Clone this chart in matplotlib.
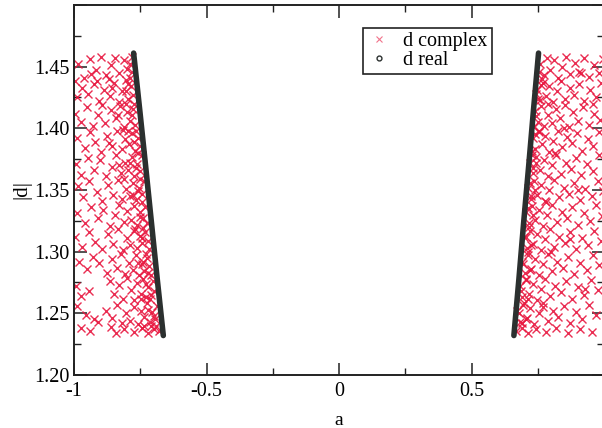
import numpy as np
import matplotlib
matplotlib.use("Agg")
import matplotlib.pyplot as plt
from matplotlib.lines import Line2D
from matplotlib.ticker import MultipleLocator

plt.rcParams['font.family'] = ['Liberation Serif', 'DejaVu Serif']

# d complex, left cluster (a, |d|)
left_pts = [
    (-0.985,1.452),(-0.962,1.441),(-0.941,1.456),(-0.918,1.447),(-0.897,1.458),(-0.880,1.443),(-0.862,1.451),(-0.845,1.457),
    (-0.829,1.445),(-0.812,1.455),(-0.800,1.448),(-0.790,1.441),(-0.783,1.458),(-0.868,1.440),(-0.935,1.444),(-0.998,1.438),
    (-0.990,1.425),(-0.970,1.433),(-0.948,1.428),(-0.925,1.436),(-0.905,1.422),(-0.887,1.431),(-0.866,1.426),(-0.850,1.437),
    (-0.832,1.421),(-0.818,1.430),(-0.805,1.439),(-0.795,1.424),(-0.784,1.434),(-0.776,1.427),(-0.858,1.433),(-0.912,1.438),
    (-0.995,1.412),(-0.972,1.405),(-0.951,1.417),(-0.930,1.402),(-0.908,1.411),(-0.884,1.404),(-0.861,1.415),(-0.842,1.408),
    (-0.826,1.418),(-0.812,1.401),(-0.799,1.413),(-0.788,1.406),(-0.776,1.416),(-0.768,1.403),(-0.835,1.411),(-0.894,1.419),(-0.805,1.420),
    (-0.988,1.392),(-0.960,1.384),(-0.940,1.397),(-0.921,1.389),(-0.899,1.381),(-0.877,1.394),(-0.855,1.386),(-0.838,1.398),
    (-0.820,1.383),(-0.806,1.391),(-0.793,1.387),(-0.781,1.396),(-0.770,1.382),(-0.760,1.392),(-0.815,1.399),(-0.868,1.388),(-0.752,1.386),
    (-0.993,1.371),(-0.975,1.362),(-0.946,1.376),(-0.924,1.366),(-0.903,1.374),(-0.880,1.361),(-0.858,1.369),(-0.840,1.378),
    (-0.822,1.364),(-0.807,1.372),(-0.795,1.366),(-0.783,1.377),(-0.772,1.361),(-0.761,1.371),(-0.750,1.365),(-0.830,1.370),(-0.745,1.378),
    (-0.985,1.353),(-0.966,1.344),(-0.943,1.357),(-0.915,1.348),(-0.896,1.341),(-0.873,1.354),(-0.852,1.346),(-0.834,1.358),
    (-0.818,1.343),(-0.802,1.351),(-0.790,1.345),(-0.778,1.356),(-0.766,1.342),(-0.755,1.352),(-0.745,1.347),(-0.737,1.357),(-0.812,1.359),
    (-0.990,1.331),(-0.958,1.323),(-0.937,1.336),(-0.910,1.327),(-0.889,1.334),(-0.866,1.321),(-0.847,1.330),(-0.829,1.338),
    (-0.813,1.324),(-0.799,1.333),(-0.786,1.326),(-0.773,1.337),(-0.762,1.322),(-0.751,1.332),(-0.741,1.327),(-0.732,1.336),(-0.726,1.323),
    (-0.996,1.312),(-0.970,1.304),(-0.944,1.316),(-0.919,1.308),(-0.893,1.302),(-0.871,1.314),(-0.851,1.306),(-0.833,1.318),
    (-0.816,1.301),(-0.801,1.311),(-0.788,1.305),(-0.775,1.317),(-0.763,1.303),(-0.752,1.313),(-0.742,1.307),(-0.732,1.316),(-0.722,1.309),(-0.716,1.302),
    (-0.982,1.292),(-0.952,1.286),(-0.930,1.296),(-0.877,1.283),(-0.858,1.294),(-0.838,1.287),(-0.821,1.298),(-0.806,1.282),
    (-0.792,1.291),(-0.779,1.285),(-0.767,1.297),(-0.755,1.281),(-0.745,1.290),(-0.735,1.284),(-0.725,1.295),(-0.716,1.288),(-0.708,1.281),(-0.905,1.291),
    (-0.993,1.272),(-0.975,1.264),(-0.944,1.268),(-0.866,1.276),(-0.849,1.266),(-0.831,1.273),(-0.815,1.262),(-0.800,1.279),
    (-0.786,1.269),(-0.773,1.261),(-0.761,1.275),(-0.749,1.266),(-0.739,1.278),(-0.729,1.263),(-0.720,1.271),(-0.711,1.265),(-0.703,1.276),(-0.697,1.268),
    (-0.988,1.256),(-0.955,1.249),(-0.925,1.245),(-0.909,1.243),(-0.878,1.252),(-0.857,1.246),(-0.838,1.257),(-0.819,1.242),
    (-0.803,1.250),(-0.790,1.244),(-0.775,1.255),(-0.760,1.241),(-0.748,1.252),(-0.735,1.247),(-0.724,1.258),(-0.714,1.243),(-0.704,1.251),(-0.695,1.245),(-0.688,1.256),
    (-0.972,1.238),(-0.940,1.236),(-0.860,1.239),(-0.842,1.234),(-0.810,1.237),(-0.772,1.235),(-0.745,1.238),(-0.720,1.234),(-0.700,1.237),(-0.680,1.236),
    # denser strip next to the real branch
    (-0.790,1.452),(-0.781,1.446),(-0.795,1.436),(-0.772,1.420),(-0.781,1.411),(-0.765,1.398),(-0.775,1.389),(-0.758,1.380),
    (-0.765,1.368),(-0.752,1.359),(-0.760,1.349),(-0.744,1.340),(-0.752,1.328),(-0.738,1.319),(-0.745,1.311),(-0.728,1.298),
    (-0.738,1.292),(-0.720,1.283),(-0.728,1.274),(-0.712,1.262),(-0.722,1.253),(-0.700,1.248),(-0.710,1.240),(-0.690,1.240),
    (-0.805,1.430),(-0.798,1.398),(-0.788,1.372),(-0.778,1.346),(-0.768,1.318),(-0.758,1.291),(-0.748,1.262),(-0.735,1.240),
]

# d complex, right cluster (a, |d|)
right_pts = [
    (0.760,1.452),(0.772,1.443),(0.785,1.457),(0.798,1.447),(0.812,1.455),(0.826,1.441),(0.840,1.450),(0.856,1.458),
    (0.871,1.444),(0.889,1.453),(0.905,1.446),(0.924,1.457),(0.943,1.442),(0.962,1.451),(0.981,1.445),(0.995,1.456),(0.765,1.440),
    (0.748,1.431),(0.758,1.423),(0.769,1.437),(0.781,1.426),(0.794,1.434),(0.808,1.421),(0.823,1.430),(0.838,1.438),
    (0.853,1.424),(0.870,1.433),(0.887,1.427),(0.906,1.436),(0.925,1.422),(0.946,1.431),(0.968,1.425),(0.988,1.437),
    (0.740,1.414),(0.750,1.405),(0.762,1.418),(0.775,1.402),(0.789,1.411),(0.803,1.404),(0.818,1.416),(0.834,1.408),
    (0.851,1.419),(0.868,1.401),(0.884,1.413),(0.903,1.406),(0.921,1.417),(0.942,1.403),(0.963,1.412),(0.985,1.407),
    (0.731,1.392),(0.741,1.383),(0.753,1.397),(0.765,1.387),(0.779,1.394),(0.793,1.381),(0.809,1.390),(0.826,1.398),
    (0.843,1.385),(0.861,1.393),(0.879,1.388),(0.898,1.396),(0.918,1.382),(0.939,1.391),(0.960,1.386),(0.982,1.397),(0.728,1.382),
    (0.722,1.372),(0.733,1.364),(0.745,1.377),(0.758,1.366),(0.772,1.374),(0.787,1.361),(0.803,1.370),(0.820,1.378),
    (0.838,1.363),(0.856,1.372),(0.875,1.367),(0.894,1.376),(0.914,1.362),(0.936,1.371),(0.958,1.365),(0.980,1.378),
    (0.714,1.352),(0.724,1.343),(0.736,1.357),(0.749,1.346),(0.763,1.354),(0.778,1.341),(0.794,1.350),(0.811,1.358),
    (0.829,1.344),(0.848,1.352),(0.867,1.347),(0.887,1.356),(0.908,1.342),(0.930,1.351),(0.953,1.345),(0.976,1.357),(0.996,1.349),
    (0.706,1.332),(0.716,1.323),(0.728,1.337),(0.741,1.326),(0.755,1.334),(0.770,1.321),(0.786,1.330),(0.803,1.338),
    (0.821,1.324),(0.840,1.332),(0.860,1.327),(0.880,1.336),(0.901,1.322),(0.923,1.331),(0.946,1.325),(0.970,1.338),(0.992,1.329),
    (0.698,1.312),(0.708,1.303),(0.720,1.317),(0.733,1.306),(0.747,1.314),(0.762,1.301),(0.778,1.310),(0.795,1.318),
    (0.813,1.304),(0.832,1.312),(0.852,1.307),(0.873,1.316),(0.894,1.302),(0.916,1.311),(0.940,1.305),(0.964,1.317),(0.988,1.309),
    (0.690,1.292),(0.700,1.283),(0.712,1.297),(0.725,1.286),(0.739,1.294),(0.754,1.281),(0.770,1.290),(0.787,1.298),
    (0.805,1.284),(0.824,1.292),(0.844,1.287),(0.865,1.296),(0.887,1.282),(0.910,1.291),(0.934,1.285),(0.958,1.297),(0.983,1.289),
    (0.682,1.272),(0.692,1.263),(0.704,1.277),(0.717,1.266),(0.731,1.274),(0.746,1.261),(0.762,1.270),(0.779,1.278),
    (0.797,1.264),(0.816,1.272),(0.836,1.267),(0.857,1.276),(0.879,1.262),(0.902,1.271),(0.926,1.265),(0.951,1.277),(0.977,1.269),
    (0.673,1.252),(0.683,1.243),(0.695,1.257),(0.708,1.246),(0.722,1.254),(0.737,1.241),(0.753,1.250),(0.770,1.258),
    (0.788,1.244),(0.807,1.252),(0.827,1.247),(0.848,1.256),(0.870,1.242),(0.893,1.251),(0.917,1.245),(0.942,1.257),(0.968,1.249),
    (0.668,1.236),(0.690,1.238),(0.715,1.234),(0.745,1.237),(0.780,1.235),(0.820,1.238),(0.865,1.234),(0.910,1.237),(0.955,1.235),
    # denser strip next to the real branch
    (0.755,1.446),(0.762,1.435),(0.752,1.424),(0.745,1.410),(0.755,1.398),(0.738,1.395),(0.745,1.372),(0.732,1.368),
    (0.740,1.350),(0.726,1.345),(0.733,1.330),(0.718,1.320),(0.726,1.305),(0.712,1.300),(0.720,1.285),(0.705,1.278),
    (0.712,1.262),(0.698,1.258),(0.705,1.245),(0.690,1.242),(0.680,1.250),(0.688,1.268),(0.696,1.290),(0.704,1.312),
    (0.712,1.335),(0.720,1.356),(0.728,1.378),(0.736,1.401),(0.745,1.428),(0.790,1.420),(0.815,1.380),(0.780,1.340),
    (0.800,1.300),(0.770,1.255),(0.850,1.400),(0.900,1.350),(0.870,1.310),(0.930,1.270),(0.960,1.420),(0.915,1.445),
]

# d real, read along the two dark bands
real_d = [1.461, 1.415, 1.370, 1.324, 1.278, 1.232]
real_a_left = [-0.775, -0.752, -0.730, -0.708, -0.686, -0.663]
real_a_right = [0.753, 0.734, 0.716, 0.697, 0.679, 0.660]

xticks = [-1, -0.5, 0, 0.5, 1]
xticklabels = ['-1', '-0.5', '0', '0.5', '']
yticks = [1.20, 1.25, 1.30, 1.35, 1.40, 1.45, 1.50]
yticklabels = ['1.20', '1.25', '1.30', '1.35', '1.40', '1.45', '']

red = '#e8173f'
dark = '#2b302f'

fig = plt.figure(figsize=(6.02, 4.28), dpi=100)
ax = fig.add_axes([74/602, 53/428, 530/602, 370/428])

cx = np.array(left_pts + right_pts)
ax.plot(cx[:, 0], cx[:, 1], linestyle='', marker='x', markersize=5.5, markeredgewidth=1.0, color=red, alpha=0.9)

ax.plot(real_a_left, real_d, color=dark, lw=4.0, solid_capstyle='round')
ax.plot(real_a_right, real_d, color=dark, lw=4.0, solid_capstyle='round')

ax.set_xlim(-1, 1)
ax.set_ylim(1.2, 1.5)
ax.set_xticks(xticks)
ax.set_xticklabels(xticklabels)
ax.set_yticks(yticks)
ax.set_yticklabels(yticklabels)
ax.xaxis.set_minor_locator(MultipleLocator(0.25))
ax.yaxis.set_minor_locator(MultipleLocator(0.025))
ax.tick_params(which='both', direction='in', top=True, right=True, labelsize=14.5, color='#222222')
ax.tick_params(which='major', length=9, width=1.1)
ax.tick_params(which='minor', length=5, width=1.0)
ax.tick_params(axis='x', pad=5)
ax.tick_params(axis='y', pad=3)
for s in ax.spines.values():
    s.set_linewidth(1.4)
    s.set_color('#222222')

ax.set_xlabel('a', fontsize=14, labelpad=8)
ax.set_ylabel('|d|', fontsize=15, labelpad=2)

handles = [
    Line2D([], [], linestyle='', marker='x', markersize=4, markeredgewidth=0.8, color=red, alpha=0.6),
    Line2D([], [], linestyle='', marker='o', markersize=3.5, markerfacecolor='white', markeredgecolor=dark, markeredgewidth=1.0),
]
leg = ax.legend(handles, ['d complex', 'd real'], loc='upper left', bbox_to_anchor=(0.545, 0.938),
                borderaxespad=0, fontsize=14.5, labelspacing=0.0, borderpad=0.2,
                handletextpad=0.6, handlelength=1.2, fancybox=False, framealpha=1)
leg.get_frame().set_edgecolor('#222222')
leg.get_frame().set_linewidth(1.2)

fig.savefig('out.png', dpi=100)
